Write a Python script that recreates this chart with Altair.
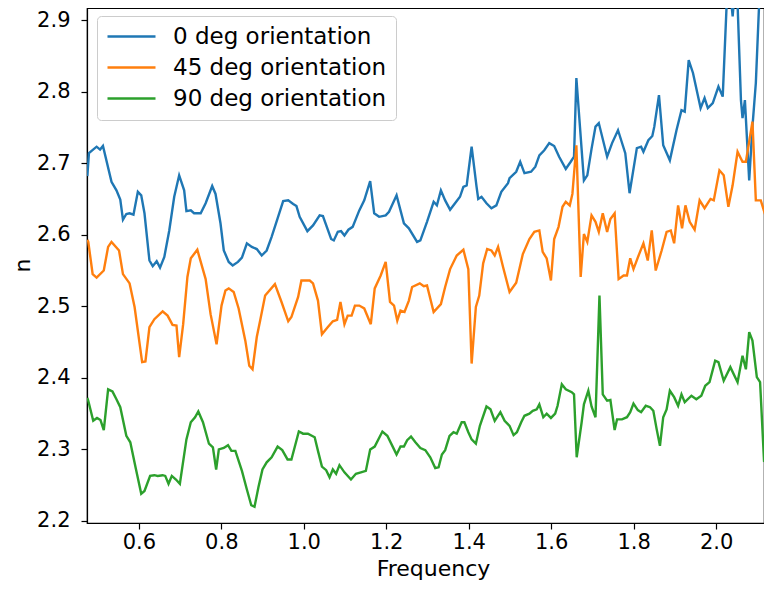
import altair as alt
import pandas as pd

series_names = ["0 deg orientation", "45 deg orientation", "90 deg orientation"]
series_colors = ["#1f77b4", "#ff7f0e", "#2ca02c"]

x_ticks = [0.6, 0.8, 1.0, 1.2, 1.4, 1.6, 1.8, 2.0]
y_ticks = [2.2, 2.3, 2.4, 2.5, 2.6, 2.7, 2.8, 2.9]

blue_x = [0.4751, 0.479, 0.4976, 0.506, 0.513, 0.5337, 0.5457, 0.555, 0.5615, 0.5697,
          0.5776, 0.587, 0.5976, 0.6058, 0.6137, 0.6257, 0.6337, 0.6433, 0.6514, 0.6618,
          0.6738, 0.6858, 0.6978, 0.7099, 0.7154, 0.726, 0.7339, 0.750, 0.762, 0.7779,
          0.786, 0.798, 0.806, 0.818, 0.8276, 0.8404, 0.850, 0.862, 0.874, 0.886,
          0.898, 0.910, 0.922, 0.9365, 0.950, 0.9623, 0.9743, 0.9822, 0.990, 1.0087,
          1.0224, 1.0385, 1.0464, 1.0663, 1.0728, 1.0825, 1.0904, 1.0986, 1.1082, 1.1185,
          1.1346, 1.1466, 1.161, 1.1707, 1.1827, 1.1986, 1.2067, 1.225, 1.2428, 1.2548,
          1.2748, 1.2827, 1.2988, 1.3149, 1.3228, 1.3325, 1.3428, 1.3548, 1.3668, 1.3788,
          1.387, 1.395, 1.407, 1.419, 1.423, 1.431, 1.443, 1.455, 1.467, 1.479,
          1.4952, 1.499, 1.5151, 1.5248, 1.5351, 1.5512, 1.5615, 1.5712, 1.5832, 1.5952,
          1.6072, 1.6192, 1.6353, 1.6473, 1.6553, 1.661, 1.6793, 1.6875, 1.6978, 1.7074,
          1.7154, 1.7356, 1.7476, 1.762, 1.7796, 1.790, 1.8077, 1.818, 1.8236, 1.8356,
          1.8452, 1.850, 1.8613, 1.8716, 1.8877, 1.9038, 1.9159, 1.9238, 1.9334, 1.9438,
          1.9543, 1.9623, 1.9719, 1.9798, 1.9918, 2.0055, 2.0159, 2.029, 2.040, 2.049,
          2.0601, 2.0639, 2.0697, 2.0801, 2.088, 2.0962, 2.104, 2.114]
blue_y = [2.682, 2.714, 2.723, 2.719, 2.724, 2.674, 2.662, 2.649, 2.621, 2.629,
          2.630, 2.628, 2.660, 2.655, 2.630, 2.564, 2.556, 2.563, 2.554, 2.569,
          2.606, 2.653, 2.683, 2.662, 2.633, 2.634, 2.630, 2.630, 2.644, 2.668,
          2.657, 2.616, 2.578, 2.562, 2.557, 2.562, 2.568, 2.588, 2.583, 2.580,
          2.571, 2.578, 2.597, 2.623, 2.647, 2.648, 2.643, 2.640, 2.625, 2.605,
          2.613, 2.627, 2.626, 2.594, 2.592, 2.604, 2.605, 2.599, 2.607, 2.611,
          2.634, 2.648, 2.675, 2.630, 2.625, 2.627, 2.632, 2.655, 2.616, 2.609,
          2.590, 2.592, 2.618, 2.646, 2.641, 2.662, 2.648, 2.635, 2.644, 2.653,
          2.667, 2.669, 2.723, 2.667, 2.650, 2.653, 2.644, 2.637, 2.641, 2.660,
          2.672, 2.679, 2.688, 2.702, 2.686, 2.688, 2.695, 2.711, 2.718, 2.728,
          2.724, 2.709, 2.692, 2.702, 2.709, 2.819, 2.676, 2.683, 2.720, 2.751,
          2.756, 2.709, 2.728, 2.746, 2.714, 2.658, 2.721, 2.723, 2.716, 2.732,
          2.738, 2.751, 2.795, 2.725, 2.704, 2.746, 2.774, 2.772, 2.844, 2.826,
          2.798, 2.777, 2.791, 2.777, 2.784, 2.807, 2.793, 2.970, 2.905, 2.970,
          2.788, 2.763, 2.788, 2.676, 2.751, 2.812, 2.920, 2.990]

orange_x = [0.4751, 0.4774, 0.488, 0.4976, 0.515, 0.5255, 0.5337, 0.552, 0.5615, 0.5776,
            0.5897, 0.608, 0.616, 0.6257, 0.6377, 0.6577, 0.6697, 0.6817, 0.6913, 0.6978,
            0.7075, 0.7178, 0.726, 0.7418, 0.762, 0.774, 0.7885, 0.8005, 0.810, 0.818,
            0.830, 0.842, 0.8582, 0.8678, 0.8757, 0.886, 0.8942, 0.9063, 0.930, 0.946,
            0.9623, 0.970, 0.9863, 0.9942, 1.0144, 1.0224, 1.0344, 1.044, 1.0584, 1.0704,
            1.0808, 1.0889, 1.0986, 1.1065, 1.116, 1.124, 1.1346, 1.1466, 1.1625, 1.172,
            1.1865, 1.1986, 1.2091, 1.2188, 1.2267, 1.2346, 1.2442, 1.2548, 1.2627, 1.2813,
            1.2909, 1.2988, 1.3149, 1.3325, 1.3428, 1.3548, 1.3709, 1.387, 1.399, 1.407,
            1.4173, 1.4255, 1.435, 1.4447, 1.455, 1.463, 1.4712, 1.4832, 1.499, 1.5151,
            1.5312, 1.5471, 1.5591, 1.5712, 1.5793, 1.589, 1.5993, 1.6072, 1.6178, 1.6274,
            1.6353, 1.645, 1.6514, 1.661, 1.6714, 1.6793, 1.6875, 1.6978, 1.7074, 1.7154,
            1.725, 1.7356, 1.7435, 1.7538, 1.7635, 1.7755, 1.7837, 1.7916, 1.7995, 1.8132,
            1.8236, 1.8341, 1.8438, 1.8534, 1.8678, 1.8798, 1.890, 1.8981, 1.9077, 1.9173,
            1.9255, 1.9358, 1.9478, 1.9599, 1.9719, 1.9863, 1.9942, 2.0079, 2.0183, 2.0296,
            2.0399, 2.0519, 2.0639, 2.0721, 2.088, 2.0962, 2.1082, 2.1178, 2.1209]
orange_y = [2.593, 2.590, 2.545, 2.540, 2.550, 2.583, 2.590, 2.578, 2.545, 2.532,
            2.499, 2.422, 2.423, 2.471, 2.482, 2.493, 2.487, 2.474, 2.473, 2.429,
            2.475, 2.541, 2.567, 2.579, 2.538, 2.489, 2.447, 2.501, 2.522, 2.525,
            2.520, 2.497, 2.452, 2.417, 2.412, 2.457, 2.480, 2.515, 2.531, 2.506,
            2.479, 2.485, 2.513, 2.536, 2.536, 2.532, 2.508, 2.461, 2.471, 2.479,
            2.481, 2.506, 2.475, 2.487, 2.487, 2.501, 2.501, 2.497, 2.475, 2.525,
            2.543, 2.562, 2.506, 2.501, 2.480, 2.494, 2.492, 2.508, 2.527, 2.532,
            2.528, 2.529, 2.492, 2.503, 2.527, 2.552, 2.571, 2.579, 2.552, 2.420,
            2.499, 2.515, 2.560, 2.580, 2.578, 2.571, 2.583, 2.555, 2.520, 2.533,
            2.573, 2.594, 2.604, 2.606, 2.576, 2.567, 2.536, 2.594, 2.611, 2.639,
            2.646, 2.641, 2.657, 2.725, 2.541, 2.601, 2.590, 2.627, 2.618, 2.604,
            2.630, 2.604, 2.622, 2.630, 2.538, 2.543, 2.543, 2.567, 2.552, 2.573,
            2.588, 2.564, 2.606, 2.550, 2.578, 2.604, 2.606, 2.588, 2.641, 2.609,
            2.641, 2.618, 2.607, 2.648, 2.637, 2.650, 2.648, 2.690, 2.683, 2.639,
            2.669, 2.716, 2.702, 2.702, 2.758, 2.648, 2.648, 2.630, 2.625]

green_x = [0.4751, 0.4774, 0.4894, 0.4986, 0.507, 0.515, 0.5255, 0.536, 0.5457, 0.555,
           0.5697, 0.5793, 0.592, 0.6058, 0.6137, 0.6274, 0.6377, 0.6457, 0.6577, 0.664,
           0.672, 0.680, 0.690, 0.6995, 0.7154, 0.726, 0.7363, 0.7442, 0.7555, 0.770,
           0.7796, 0.7875, 0.794, 0.806, 0.8163, 0.8245, 0.8341, 0.850, 0.862, 0.8726,
           0.8805, 0.890, 0.8998, 0.910, 0.922, 0.9365, 0.9478, 0.9606, 0.970, 0.988,
           0.9983, 1.010, 1.0264, 1.0344, 1.044, 1.0543, 1.0625, 1.0704, 1.0784, 1.0865,
           1.0986, 1.1144, 1.1264, 1.1385, 1.1505, 1.161, 1.172, 1.1906, 1.2026, 1.2147,
           1.225, 1.2346, 1.2428, 1.2507, 1.260, 1.2707, 1.2827, 1.2947, 1.3067, 1.3188,
           1.3269, 1.3349, 1.3428, 1.3534, 1.363, 1.3709, 1.3829, 1.3894, 1.399, 1.407,
           1.4173, 1.427, 1.443, 1.4527, 1.463, 1.4767, 1.487, 1.499, 1.5087, 1.5168,
           1.5272, 1.5351, 1.5471, 1.5553, 1.5649, 1.5712, 1.5808, 1.589, 1.5993, 1.6096,
           1.6154, 1.6257, 1.6353, 1.6498, 1.6553, 1.6618, 1.6738, 1.6793, 1.690, 1.6978,
           1.7074, 1.717, 1.725, 1.7356, 1.7435, 1.7538, 1.7596, 1.7716, 1.7837, 1.7916,
           1.7995, 1.81, 1.818, 1.8293, 1.8397, 1.8476, 1.8558, 1.8637, 1.8716, 1.8798,
           1.8877, 1.8981, 1.9077, 1.9159, 1.9238, 1.940, 1.9519, 1.964, 1.9735, 1.9839,
           1.9976, 2.0055, 2.0183, 2.0344, 2.0519, 2.0639, 2.0721, 2.0801, 2.088, 2.0986,
           2.1065, 2.1161, 2.1209]
green_y = [2.372, 2.368, 2.340, 2.344, 2.341, 2.327, 2.384, 2.381, 2.370, 2.359,
           2.319, 2.310, 2.275, 2.238, 2.242, 2.263, 2.264, 2.263, 2.264, 2.263,
           2.252, 2.263, 2.258, 2.252, 2.314, 2.338, 2.345, 2.353, 2.338, 2.308,
           2.303, 2.272, 2.300, 2.302, 2.306, 2.298, 2.298, 2.270, 2.244, 2.222,
           2.220, 2.247, 2.272, 2.282, 2.289, 2.304, 2.299, 2.286, 2.286, 2.325,
           2.322, 2.322, 2.317, 2.298, 2.276, 2.271, 2.261, 2.272, 2.266, 2.278,
           2.268, 2.258, 2.266, 2.268, 2.270, 2.300, 2.304, 2.325, 2.319, 2.305,
           2.293, 2.304, 2.304, 2.313, 2.318, 2.310, 2.302, 2.299, 2.289, 2.274,
           2.275, 2.293, 2.299, 2.319, 2.324, 2.322, 2.338, 2.338, 2.324, 2.314,
           2.308, 2.333, 2.360, 2.356, 2.340, 2.352, 2.340, 2.333, 2.320, 2.324,
           2.338, 2.347, 2.350, 2.354, 2.356, 2.363, 2.345, 2.350, 2.344, 2.350,
           2.361, 2.391, 2.384, 2.380, 2.377, 2.289, 2.338, 2.363, 2.382, 2.360,
           2.345, 2.515, 2.377, 2.368, 2.369, 2.327, 2.342, 2.342, 2.345, 2.352,
           2.364, 2.355, 2.352, 2.361, 2.359, 2.354, 2.328, 2.305, 2.345, 2.356,
           2.382, 2.373, 2.361, 2.377, 2.366, 2.375, 2.370, 2.375, 2.389, 2.394,
           2.424, 2.422, 2.396, 2.415, 2.394, 2.431, 2.412, 2.464, 2.452, 2.401,
           2.394, 2.284, 2.283]

frames = []
for name, xs, ys in zip(series_names, [blue_x, orange_x, green_x], [blue_y, orange_y, green_y]):
    frames.append(pd.DataFrame({"Frequency": xs, "n": ys, "series": name}))
df = pd.concat(frames, ignore_index=True)

chart = alt.Chart(df).mark_line(clip=True, strokeWidth=2.4).encode(
    x=alt.X("Frequency:Q",
            scale=alt.Scale(domain=[0.4743, 2.116], nice=False, zero=False),
            axis=alt.Axis(values=x_ticks, format=".1f", title="Frequency",
                          labelPadding=2, titleX=346, titleY=52,
                          titleBaseline="alphabetic", titleAnchor="start", titleAlign="center")),
    y=alt.Y("n:Q",
            scale=alt.Scale(domain=[2.1972, 2.9168], nice=False, zero=False),
            axis=alt.Axis(values=y_ticks, format=".1f", title="n",
                          labelPadding=11, titleX=-58, titleY=257,
                          titleBaseline="alphabetic", titleAngle=270, titleAlign="center")),
    color=alt.Color("series:N",
                    scale=alt.Scale(domain=series_names, range=series_colors),
                    legend=alt.Legend(title=None, orient="none", legendX=10, legendY=8,
                                      symbolType="stroke", symbolSize=2304,
                                      symbolStrokeWidth=2.4, labelFontSize=23,
                                      labelFont="DejaVu Sans", labelColor="black",
                                      labelLimit=400,
                                      clipHeight=23, rowPadding=7, labelOffset=16,
                                      padding=9, strokeColor="#cccccc",
                                      fillColor="rgba(255,255,255,0.8)", cornerRadius=4)),
).properties(
    width=677, height=515,
    autosize=alt.AutoSizeParams(type="none"),
    padding={"left": 79, "top": 0, "right": 0, "bottom": 58},
).configure_view(
    stroke="black", strokeWidth=1.2
).configure_axis(
    grid=False, domainColor="black", domainWidth=1.2, tickColor="black",
    tickWidth=1.2, tickSize=6, labelFont="DejaVu Sans", labelFontSize=21,
    labelColor="black", titleFont="DejaVu Sans", titleFontSize=22,
    titleFontWeight="normal", titleColor="black"
)

chart.save("out.html", embed_options={"renderer": "svg", "actions": False})
